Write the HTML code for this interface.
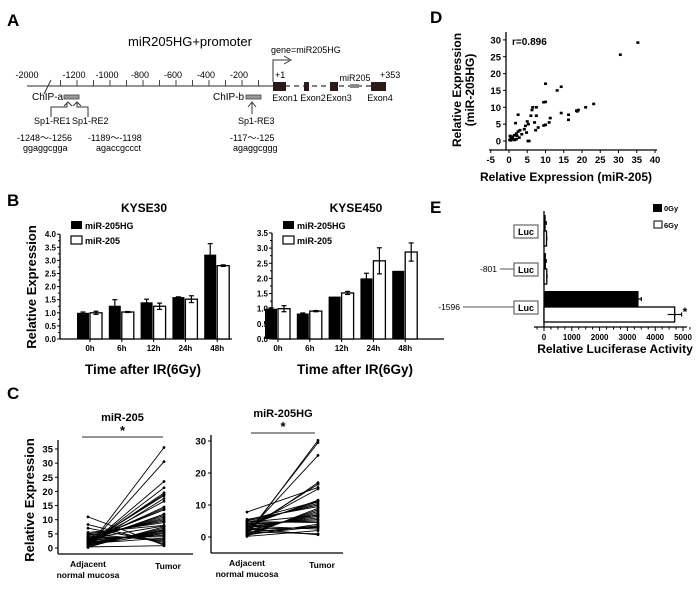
<!DOCTYPE html>
<html><head><meta charset="utf-8"><style>
body{margin:0;background:#fff;}
svg{display:block;font-family:"Liberation Sans",Arial,sans-serif;}
.b{font-weight:bold;}
</style></head><body>
<svg id="s" width="700" height="599" viewBox="0 0 700 599">
<g id="A" font-size="9">
<text x="7" y="26" font-size="17" class="b">A</text>
<text x="190" y="46" font-size="13" text-anchor="middle">miR205HG+promoter</text>
<line x1="27" y1="86" x2="273" y2="86" stroke="#555" stroke-width="1.3"/>
<line x1="44" y1="94" x2="51" y2="80" stroke="#333"/>
<g id="aticks"></g>
<text x="27" y="78" text-anchor="middle">-2000</text>
<line x1="285" y1="86" x2="386" y2="86" stroke="#333" stroke-width="1.3" stroke-dasharray="5,4"/>
<rect x="273" y="82" width="13" height="9" fill="#2a1a1a"/>
<rect x="304" y="82" width="5" height="9" fill="#2a1a1a"/>
<rect x="330" y="82" width="8" height="9" fill="#2a1a1a"/>
<rect x="350" y="84" width="9" height="4" fill="#888"/>
<rect x="371" y="82" width="15" height="9" fill="#2a1a1a"/>
<text x="275" y="78">+1</text><text x="380" y="78">+353</text>
<text x="355" y="81" text-anchor="middle">miR205</text>
<text x="285" y="101" text-anchor="middle">Exon1</text><text x="313" y="101" text-anchor="middle">Exon2</text>
<text x="339" y="101" text-anchor="middle">Exon3</text><text x="380" y="101" text-anchor="middle">Exon4</text>
<polyline points="273,82 273,60 289,60" fill="none" stroke="#333"/>
<polyline points="284,56 291,60 284,64" fill="none" stroke="#333"/>
<text x="271" y="53">gene=miR205HG</text>
<text x="32" y="100" font-size="10">ChIP-a</text>
<rect x="64" y="95" width="15" height="4" fill="#999" stroke="#444" stroke-width="0.8"/>
<polyline points="51,117 51,107 67,107 67,103" fill="none" stroke="#333"/>
<polyline points="64,106 68,102 72,106" fill="none" stroke="#333"/>
<polyline points="88,117 88,107 77,107 77,103" fill="none" stroke="#333"/>
<polyline points="73,106 77,102 81,106" fill="none" stroke="#333"/>
<text x="34" y="124">Sp1-RE1</text><text x="72" y="124">Sp1-RE2</text>
<text x="213" y="100" font-size="10">ChIP-b</text>
<rect x="246" y="95" width="15" height="4" fill="#999" stroke="#444" stroke-width="0.8"/>
<line x1="252" y1="114" x2="252" y2="103" stroke="#333"/>
<polyline points="248,107 252,102 256,107" fill="none" stroke="#333"/>
<text x="238" y="124">Sp1-RE3</text>
<text x="17" y="141">-1248～-1256</text><text x="23" y="151">ggaggcgga</text>
<text x="88" y="141">-1189～-1198</text><text x="96" y="151">agaccgccct</text>
<text x="230" y="141">-117～-125</text><text x="233" y="151">agaggcggg</text>
</g>
<text x="7" y="206" font-size="17" class="b">B</text>
<text x="7" y="399" font-size="17" class="b">C</text>
<text x="430" y="23" font-size="17" class="b">D</text>
<text x="430" y="213" font-size="17" class="b">E</text>
<g id="g"></g>
</svg>
<script>
// ---- Panel B data
const bCats=["0h","6h","12h","24h","48h"];
const k30HG=[1.0,1.27,1.4,1.6,3.22], k30HGe=[0.03,0.23,0.12,0.01,0.42];
const k30m=[1.0,1.03,1.25,1.52,2.8], k30me=[0.06,0.02,0.12,0.13,0.03];
const k450HG=[1.0,0.84,1.4,2.0,2.25], k450HGe=[0.03,0.02,0.0,0.17,0.0];
const k450m=[1.0,0.92,1.52,2.58,2.87], k450me=[0.1,0.02,0.05,0.43,0.3];
const k30Ticks=["0.0","0.5","1.0","1.5","2.0","2.5","3.0","3.5","4.0"];
const k450Ticks=["0.0","0.5","1.0","1.5","2.0","2.5","3.0","3.5"];
// ---- Panel C data
const c205Adj=[0.2,0.5,0.8,1,1.2,1.5,1.8,2,2.2,2.5,2.8,3,3.2,3.5,4,4.5,5,5.5,0.3,0.6,1,1.4,2,2.6,3,3.6,4.2,5,7,8.3,11,0.4,1.1,1.7,2.4,3.3,0.9,1.6];
const c205Tum=[35.5,30.5,23.5,21.3,19.5,19,18.5,16.5,14.5,14,13.5,11.5,11,10.5,10,9.5,9,8,7.5,7,6.5,6,5.5,5,4.5,4,3,2.5,2,1.5,1,0.8,5.2,6.2,12,7.8,17.5,3.5];
const cHGAdj=[0.5,1,1.5,2,2.5,3,3.5,4,4.5,5,5.5,0.3,0.8,1.2,1.8,2.2,2.8,3.2,3.8,4.2,4.8,7.8,0.6,1.4,2.4,3.4,0.2,1.6,2.6,5.2,0.9,4.6];
const cHGTum=[30.2,29.5,25.5,17,16.5,15,11.5,11,10.5,10,9.5,9,8.5,8,7.5,7,6.5,6,5.5,5,4.5,15.5,4,3.5,3,2.5,2,1,0.7,11.2,3.2,6.8];
const c205Ticks=[0,5,10,15,20,25,30,35], cHGTicks=[0,10,20,30];
// ---- Panel D data
const dX=[35.3,30.5,23.2,21,19,18.5,18.7,16.3,16.3,14.3,13.2,14.3,10,9.5,10,11.3,11,10,9.5,7.5,6.5,6.3,7.5,6,8,7.3,7,5,5.3,5.2,5.5,4.5,4.2,4.8,2.5,1.8,3,2.5,2,1.5,2.8,2,1,0.5,0.2,0.5,0.8,0.3,1.2,1.5,3.5,2.2];
const dY=[29.2,25.6,11,10,9.2,9,8.8,7.8,6.3,16.1,15,8.3,17,11.5,11.6,6.8,5.5,4.8,4.6,10,10,9.2,7.5,7.5,4,3.2,5.5,5.8,5,0,0,4.5,3.5,2.5,7.8,5.3,3.2,2.8,2.2,1.7,1,0.5,1.3,1,0.3,0.2,0.8,1.5,0.5,0.3,2,1.5];
const dXTicks=[-5,0,5,10,15,20,25,30,35,40], dYTicks=[0,5,10,15,20,25,30];
// ---- Panel E data
const eLabels=["","-801","-1596"];
const e0=[60,70,3400], e0e=[20,10,100];
const e6=[90,100,4700], e6e=[10,10,250];
const eTicks=[0,1000,2000,3000,4000,5000];

const NS="http://www.w3.org/2000/svg", G=document.getElementById('g');
function mk(t,a,p,txt){const e=document.createElementNS(NS,t);for(const k in a)e.setAttribute(k,a[k]);if(txt!==undefined)e.textContent=txt;(p||G).appendChild(e);return e;}

// A ticks
const at=document.getElementById('aticks');
const aLab={"-1200":1,"-1000":1,"-800":1,"-600":1,"-400":1,"-200":1};
for(let v=-1300;v<=-100;v+=100){const x=275+v*0.165;mk('line',{x1:x,y1:86,x2:x,y2:80,stroke:'#444'},at);
 if(aLab[v])mk('text',{x:x-3,y:78,'text-anchor':'middle','font-size':9},at,String(v));}

// B
function barChart(name,title,ax,y0,ppu,ticks,cats,hg,hge,m,me,xc0,dx){
 const g=mk('g',{});
 const y=v=>y0-v*ppu, top=y(parseFloat(ticks[ticks.length-1]));
 mk('line',{x1:ax,y1:top,x2:ax,y2:y0,stroke:'#000','stroke-width':1.3},g);
 mk('line',{x1:ax,y1:y0,x2:ax+172,y2:y0,stroke:'#000','stroke-width':1.3},g);
 ticks.forEach((t,i)=>{const yy=y(parseFloat(t));mk('line',{x1:ax-3,y1:yy,x2:ax,y2:yy,stroke:'#000'},g);
  if(i>0)mk('line',{x1:ax-2,y1:yy+0.25*ppu,x2:ax,y2:yy+0.25*ppu,stroke:'#000'},g);
  mk('text',{x:ax-4,y:yy+3,'text-anchor':'end','font-size':8,'font-weight':'bold'},g,t);});
 cats.forEach((c,i)=>{const xc=xc0+i*dx;
  mk('line',{x1:xc,y1:y0,x2:xc,y2:y0+3,stroke:'#000'},g);
  mk('text',{x:xc,y:y0+12,'text-anchor':'middle','font-size':8,'font-weight':'bold'},g,c);
  const r1=mk('rect',{x:xc-13,y:y(hg[i]),width:12,height:hg[i]*ppu,fill:'#000'},g);
  
  const r2=mk('rect',{x:xc,y:y(m[i]),width:12,height:m[i]*ppu,fill:'#fff',stroke:'#000','stroke-width':1.3},g);
  
  [[xc-7,hg[i],hge[i]],[xc+6,m[i],me[i]]].forEach(([x,v,e])=>{if(e>0){
   mk('line',{x1:x,y1:y(v+e),x2:x,y2:y(v-e),stroke:'#000','stroke-width':1.2},g);
   mk('line',{x1:x-2.5,y1:y(v+e),x2:x+2.5,y2:y(v+e),stroke:'#000','stroke-width':1.2},g);
   mk('line',{x1:x-2.5,y1:y(v-e),x2:x+2.5,y2:y(v-e),stroke:'#000','stroke-width':1.2},g);}});
 });
 mk('text',{x:ax+84,y:212,'text-anchor':'middle','font-size':12,'font-weight':'bold'},g,title);
 const lg=mk('g',{},g);
 mk('rect',{x:ax+11,y:221,width:11,height:8,fill:'#000'},lg);
 mk('text',{x:ax+25,y:229,'font-size':9,'font-weight':'bold'},lg,'miR-205HG');
 mk('rect',{x:ax+11,y:236,width:11,height:8,fill:'#fff',stroke:'#000','stroke-width':1.2},lg);
 mk('text',{x:ax+25,y:244,'font-size':9,'font-weight':'bold'},lg,'miR-205');
 mk('text',{x:ax+83,y:374,'text-anchor':'middle','font-size':13.5,'font-weight':'bold'},g,'Time after IR(6Gy)');
}
barChart('kyse30-chart','KYSE30',60,339,26.2,k30Ticks,bCats,k30HG,k30HGe,k30m,k30me,90,31.8);
barChart('kyse450-chart','KYSE450',272,339,30.3,k450Ticks,bCats,k450HG,k450HGe,k450m,k450me,278,31.8);
mk('text',{x:0,y:0,transform:'translate(36,287) rotate(-90)','text-anchor':'middle','font-size':13,'font-weight':'bold'},G,'Relative Expression');

// C
function pairChart(name,title,ax,y0,ppu,top,bot,right,xa,xt,ticks,adj,tum,sx1,sx2,sy){
 const g=mk('g',{});
 const y=v=>y0-v*ppu;
 mk('line',{x1:ax,y1:top,x2:ax,y2:bot,stroke:'#000','stroke-width':1.3},g);
 mk('line',{x1:ax,y1:bot,x2:right,y2:bot,stroke:'#000','stroke-width':1.3},g);
 ticks.forEach(t=>{mk('line',{x1:ax-3,y1:y(t),x2:ax,y2:y(t),stroke:'#000'},g);
  mk('text',{x:ax-5,y:y(t)+3.5,'text-anchor':'end','font-size':9.5,'font-weight':'bold'},g,String(t));});
 adj.forEach((a,i)=>{const l=mk('line',{x1:xa,y1:y(a),x2:xt,y2:y(tum[i]),stroke:'#000','stroke-width':0.9},g);
  
  mk('circle',{cx:xa,cy:y(a),r:1.4},g);mk('circle',{cx:xt,cy:y(tum[i]),r:1.4},g);});
 mk('text',{x:(sx1+sx2)/2,y:sy-13,'text-anchor':'middle','font-size':11,'font-weight':'bold'},g,title);
 mk('text',{x:(sx1+sx2)/2,y:sy+1,'text-anchor':'middle','font-size':13,'font-weight':'bold'},g,'*');
 mk('line',{x1:sx1,y1:sy+3,x2:sx2,y2:sy+3,stroke:'#555','stroke-width':1.2},g);
 mk('text',{x:xa,y:bot+13,'text-anchor':'middle','font-size':8.5,'font-weight':'bold'},g,'Adjacent');
 mk('text',{x:xa,y:bot+24,'text-anchor':'middle','font-size':8.5,'font-weight':'bold'},g,'normal mucosa');
 mk('text',{x:xt+4,y:bot+15,'text-anchor':'middle','font-size':8.5,'font-weight':'bold'},g,'Tumor');
}
pairChart('mir205-paired-chart','miR-205',58,548,2.83,440,554,193,88,164,c205Ticks,c205Adj,c205Tum,82,163,434);
pairChart('mir205hg-paired-chart','miR-205HG',211,537,3.2,435,553,343,247,318,cHGTicks,cHGAdj,cHGTum,251,315,430);
mk('text',{x:0,y:0,transform:'translate(34,500) rotate(-90)','text-anchor':'middle','font-size':13,'font-weight':'bold'},G,'Relative Expression');

// D
(function(){const g=mk('g',{});
 const X=v=>509+v*3.65, Y=v=>141-v*3.37;
 mk('line',{x1:506,y1:32,x2:506,y2:150,stroke:'#000','stroke-width':1.3},g);
 mk('line',{x1:489,y1:150,x2:657,y2:150,stroke:'#000','stroke-width':1.3},g);
 dYTicks.forEach(t=>{mk('line',{x1:503,y1:Y(t),x2:506,y2:Y(t),stroke:'#000'},g);
  mk('text',{x:501,y:Y(t)+3.5,'text-anchor':'end','font-size':9.5,'font-weight':'bold'},g,String(t));});
 dXTicks.forEach(t=>{mk('line',{x1:X(t),y1:150,x2:X(t),y2:153,stroke:'#000'},g);
  mk('text',{x:X(t),y:163,'text-anchor':'middle','font-size':9.5,'font-weight':'bold'},g,String(t));});
 dX.forEach((x,i)=>{const r=mk('rect',{x:X(x)-1.5,y:Y(dY[i])-1.3,width:3,height:2.6,fill:'#000'},g);});
 mk('text',{x:512,y:45,'font-size':10,'font-weight':'bold'},g,'r=0.896');
 mk('text',{x:0,y:0,transform:'translate(461,90) rotate(-90)','text-anchor':'middle','font-size':12,'font-weight':'bold'},g,'Relative Expression');
 mk('text',{x:0,y:0,transform:'translate(474,90) rotate(-90)','text-anchor':'middle','font-size':12,'font-weight':'bold'},g,'(miR-205HG)');
 mk('text',{x:566,y:181,'text-anchor':'middle','font-size':12,'font-weight':'bold'},g,'Relative Expression (miR-205)');
})();

// E
(function(){const g=mk('g',{});
 const X=v=>544+v*0.0278, cy=[231,269,307];
 mk('line',{x1:544,y1:211,x2:544,y2:327,stroke:'#000','stroke-width':1.3},g);
 mk('line',{x1:534,y1:327,x2:687,y2:327,stroke:'#000','stroke-width':1.3},g);
 for(let v=-250;v<=5250;v+=250){const big=v%1000===0;mk('line',{x1:X(v),y1:327,x2:X(v),y2:big?331:329.5,stroke:'#000'},g);}
 eTicks.forEach(t=>mk('text',{x:X(t),y:340,'text-anchor':'middle','font-size':8,'font-weight':'bold'},g,String(t)));
 cy.forEach((c,i)=>{
  const b=mk('rect',{x:544,y:c-16,width:e0[i]*0.0278,height:16,fill:'#000'},g);
  const w=mk('rect',{x:544,y:c,width:e6[i]*0.0278,height:15,fill:'#fff',stroke:'#000','stroke-width':1.3},g);
  [[c-8,e0[i],e0e[i]],[c+7.5,e6[i],e6e[i]]].forEach(([yy,v,e])=>{
   mk('line',{x1:X(v-e),y1:yy,x2:X(v+e),y2:yy,stroke:'#000','stroke-width':1.2},g);
   mk('line',{x1:X(v+e),y1:yy-2,x2:X(v+e),y2:yy+2,stroke:'#000','stroke-width':1.2},g);});
  mk('rect',{x:514,y:c-6,width:24,height:13,fill:'#fff',stroke:'#666','stroke-width':1.2},g);
  mk('text',{x:526,y:c+4,'text-anchor':'middle','font-size':9,'font-weight':'bold'},g,'Luc');
  if(eLabels[i]){const lx=i===1?500:463;mk('line',{x1:lx,y1:c,x2:514,y2:c,stroke:'#555'},g);
   mk('text',{x:lx-3,y:c+3,'text-anchor':'end','font-size':8.5},g,eLabels[i]);}
 });
 mk('text',{x:685,y:316,'text-anchor':'middle','font-size':12,'font-weight':'bold'},g,'*');
 mk('rect',{x:653,y:204,width:9,height:8,fill:'#000'},g);mk('text',{x:664,y:211,'font-size':7.5,'font-weight':'bold'},g,'0Gy');
 mk('rect',{x:654,y:221,width:8,height:7,fill:'#fff',stroke:'#000'},g);mk('text',{x:664,y:228,'font-size':7.5,'font-weight':'bold'},g,'6Gy');
 mk('text',{x:615,y:353,'text-anchor':'middle','font-size':12,'font-weight':'bold'},g,'Relative Luciferase Activity');
})();
</script>
</body></html>
